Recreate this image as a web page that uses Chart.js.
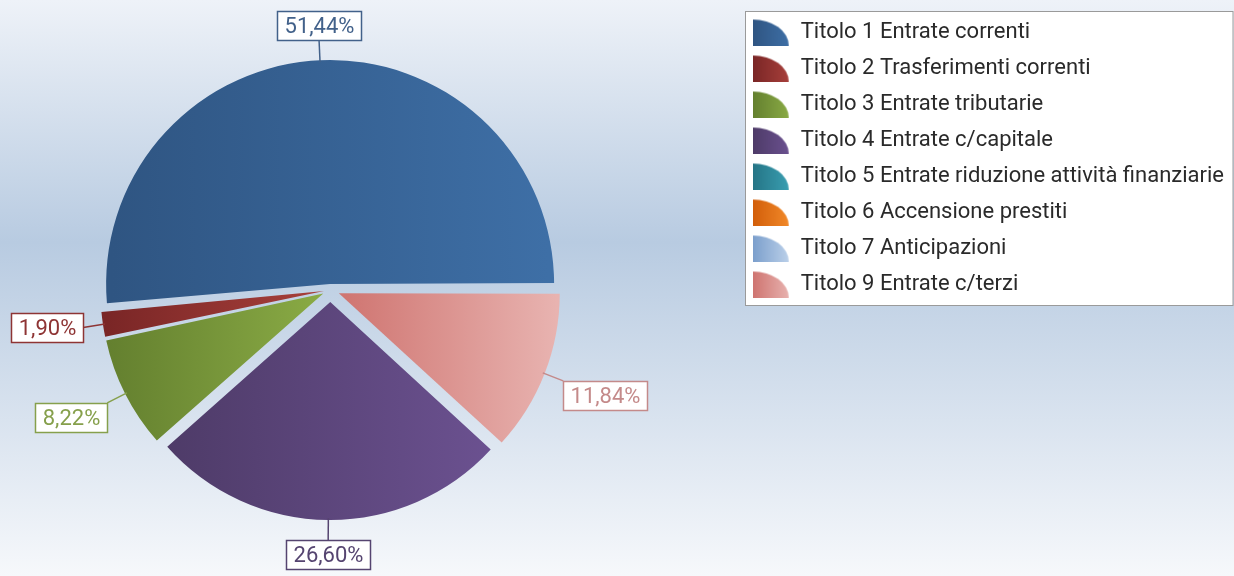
<!DOCTYPE html>
<html>
<head>
<meta charset="utf-8">
<script src="https://cdn.jsdelivr.net/npm/chart.js@4.4.1/dist/chart.umd.min.js"></script>
<style>
  html, body { margin: 0; padding: 0; background: #fff; overflow: hidden; }
  /* canvas reaches 78px past the left edge so the pie sits left of the free area */
  #wrap { width: 1312px; height: 576px; margin-left: -78px; }
</style>
</head>
<body>
<div id="wrap"><canvas id="pie"></canvas></div>
<script>
// data, legend order
var categories = [
  "Titolo 1 Entrate correnti",
  "Titolo 2 Trasferimenti correnti",
  "Titolo 3 Entrate tributarie",
  "Titolo 4 Entrate c/capitale",
  "Titolo 5 Entrate riduzione attività finanziarie",
  "Titolo 6 Accensione prestiti",
  "Titolo 7 Anticipazioni",
  "Titolo 9 Entrate c/terzi",
];
var values = [51.44, 1.90, 8.22, 26.60, 0, 0, 0, 11.84];

var darkColors = ["#2f5582", "#7a2626", "#64802f", "#4e3b68", "#257586", "#d25e0a", "#7b9fcc", "#cf7470"];
var lightColors = ["#3e6fa6", "#a8403b", "#8aab45", "#6b5190", "#3a9fb2", "#f28a2a", "#bcd1ea", "#e8b3b0"];
var labelColors = ["#42618a", "#8e3434", "#86a04c", "#554470", "#2f8596", "#d8701c", "#8fb0d8", "#c48a8a"];

var RADIUS = 218;
var EXPLODE = 12;
var LEADER = 20;

// the reference runs counter-clockwise from 3 o'clock, chart.js runs clockwise,
// so the slices go in reversed order and the legend gets sorted back
var order = categories.map(function (c, i) { return i; }).reverse();
var drawLabels = order.map(function (i) { return categories[i]; });
var drawValues = order.map(function (i) { return values[i]; });
var total = drawValues.reduce(function (a, b) { return a + b; }, 0);

function sliceAngles(di) {
  var before = 0;
  for (var j = 0; j < di; j++) before += drawValues[j];
  return [before / total * Math.PI * 2, (before + drawValues[di]) / total * Math.PI * 2];
}

function sliceGradient(context) {
  var chart = context.chart;
  var ci = order[context.dataIndex];
  var area = chart.chartArea;
  if (!area) return darkColors[ci];
  var cx = (area.left + area.right) / 2;
  var ang = sliceAngles(context.dataIndex);
  var minX = cx, maxX = cx;
  for (var k = 0; k <= 40; k++) {
    var a = ang[0] + (ang[1] - ang[0]) * k / 40;
    var x = cx + Math.cos(a) * RADIUS;
    minX = Math.min(minX, x);
    maxX = Math.max(maxX, x);
  }
  if (maxX - minX < 1) maxX = minX + 1;
  var g = chart.ctx.createLinearGradient(minX, 0, maxX, 0);
  g.addColorStop(0, darkColors[ci]);
  g.addColorStop(1, lightColors[ci]);
  return g;
}

// chart.js moves an arc by offset/4 * (2 - sin(circumference)), undo that so every slice moves EXPLODE px
function sliceOffset(context) {
  var circ = drawValues[context.dataIndex] / total * Math.PI * 2;
  var fix = 1 - Math.sin(Math.min(Math.PI, circ));
  return EXPLODE * 4 / (1 + fix);
}

// quarter-pie legend icons
function makeIcon(ci) {
  var c = document.createElement("canvas");
  c.width = 37;
  c.height = 27;
  var g = c.getContext("2d");
  var grad = g.createLinearGradient(0, 0, 37, 0);
  grad.addColorStop(0, darkColors[ci]);
  grad.addColorStop(1, lightColors[ci]);
  g.fillStyle = grad;
  g.beginPath();
  g.moveTo(0, 27);
  g.lineTo(0, 1);
  g.ellipse(0, 27, 36, 26, 0, -Math.PI / 2, 0);
  g.closePath();
  g.fill();
  return c;
}
var icons = categories.map(function (c, i) { return makeIcon(i); });

var backdrop = {
  id: "backdrop",
  beforeDraw: function (chart) {
    var ctx = chart.ctx;
    ctx.save();
    var g = ctx.createLinearGradient(0, 0, 0, chart.height);
    g.addColorStop(0, "#eef2f8");
    g.addColorStop(0.42, "#b8cbe1");
    g.addColorStop(1, "#f6f8fb");
    ctx.fillStyle = g;
    ctx.fillRect(0, 0, chart.width, chart.height);

    var boxes = chart.legend.legendHitBoxes;
    if (boxes && boxes.length) {
      var first = boxes[0], last = boxes[boxes.length - 1];
      var left = Math.round(first.left - 8), top = Math.round(first.top - 10);
      var bottom = Math.round(last.top + last.height + 10);
      ctx.fillStyle = "#ffffff";
      ctx.fillRect(left, top, chart.width - 1 - left, bottom - top);
      ctx.strokeStyle = "#9a9a9a";
      ctx.lineWidth = 1;
      ctx.strokeRect(left + 0.5, top + 0.5, chart.width - 1.5 - left, bottom - top);
    }
    ctx.restore();
  }
};

var pieLabels = {
  id: "pieLabels",
  afterDatasetsDraw: function (chart) {
    var ctx = chart.ctx;
    var meta = chart.getDatasetMeta(0);
    ctx.save();
    ctx.font = "22px Roboto";
    ctx.textAlign = "center";
    ctx.textBaseline = "middle";
    meta.data.forEach(function (arc, di) {
      var v = drawValues[di];
      if (!v) return;
      var ci = order[di];
      var p = arc.getProps(["x", "y", "startAngle", "endAngle", "outerRadius"], true);
      var mid = (p.startAngle + p.endAngle) / 2;
      var dx = Math.cos(mid), dy = Math.sin(mid);
      var ex = p.x + dx * (p.outerRadius + EXPLODE);
      var ey = p.y + dy * (p.outerRadius + EXPLODE);
      var px = ex + dx * LEADER, py = ey + dy * LEADER;
      var text = v.toFixed(2).replace(".", ",") + "%";
      var w = Math.round(ctx.measureText(text).width + 14), h = 29;
      var bx, by;
      if (Math.abs(dx) < 0.3) {
        bx = px; by = py + Math.sign(dy) * h / 2;
      } else if (Math.abs(dy) < 0.3) {
        bx = px + Math.sign(dx) * w / 2; by = py;
      } else {
        bx = px + Math.sign(dx) * w / 2; by = py + Math.sign(dy) * h / 2;
      }
      ctx.strokeStyle = labelColors[ci];
      ctx.lineWidth = 1.5;
      ctx.beginPath();
      ctx.moveTo(ex - dx * 2, ey - dy * 2);
      ctx.lineTo(px, py);
      ctx.stroke();
      var rx = Math.round(bx - w / 2) + 0.5, ry = Math.round(by - h / 2) + 0.5;
      ctx.fillStyle = "#ffffff";
      ctx.fillRect(rx, ry, w, h);
      ctx.strokeRect(rx, ry, w, h);
      ctx.fillStyle = labelColors[ci];
      ctx.fillText(text, rx + w / 2, ry + h / 2 + 1);
    });
    ctx.restore();
  }
};

var chart = new Chart(document.getElementById("pie"), {
  type: "pie",
  data: {
    labels: drawLabels,
    datasets: [
      {
        data: drawValues,
        backgroundColor: sliceGradient,
        borderWidth: 0,
        offset: sliceOffset,
      },
    ],
  },
  options: {
    responsive: true,
    maintainAspectRatio: false,
    animation: false,
    events: [],
    rotation: 90,
    radius: RADIUS,
    layout: { padding: { left: 0, right: 0, top: 7, bottom: 3 } },
    plugins: {
      tooltip: { enabled: false },
      legend: {
        position: "right",
        align: "start",
        labels: {
          usePointStyle: true,
          pointStyleWidth: 37,
          padding: 14,
          color: "#2a2a2a",
          font: { family: "Roboto", size: 22 },
          generateLabels: function () {
            return drawLabels.map(function (label, di) {
              return {
                text: label,
                pointStyle: icons[order[di]],
                fillStyle: darkColors[order[di]],
                strokeStyle: "rgba(0,0,0,0)",
                lineWidth: 0,
                fontColor: "#2a2a2a",
                hidden: false,
                index: di,
              };
            });
          },
          sort: function (a, b) { return b.index - a.index; },
        },
      },
    },
  },
  plugins: [backdrop, pieLabels],
});
</script>
</body>
</html>
